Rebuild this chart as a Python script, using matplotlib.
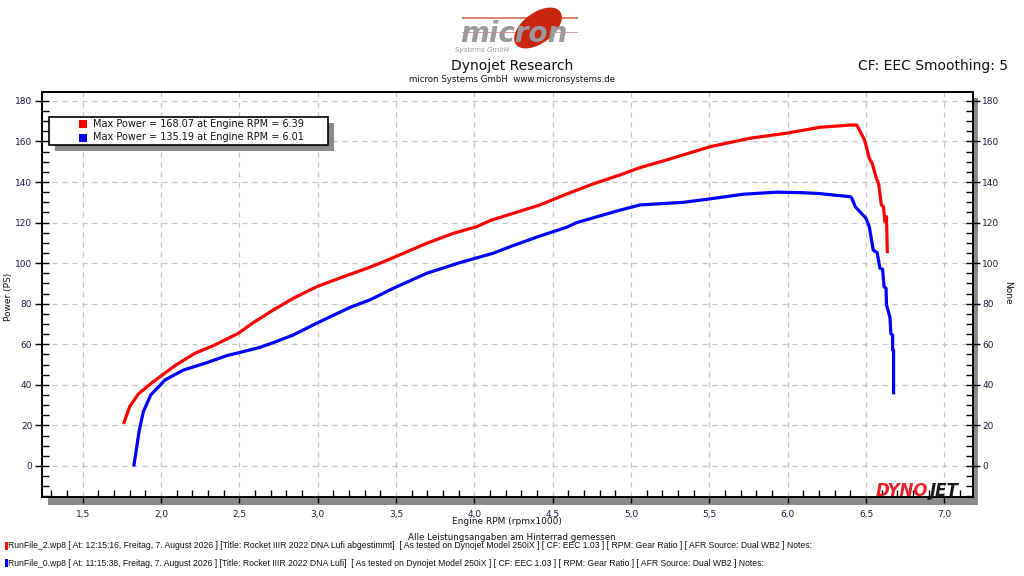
import numpy as np
import matplotlib
matplotlib.use("Agg")
import matplotlib.pyplot as plt
from matplotlib.patches import Rectangle, Ellipse
from matplotlib.ticker import MultipleLocator, FuncFormatter

# dyno run data (rpm x1000, power in PS)
rpm_run2 = [1.764, 1.80, 1.855, 1.93, 1.993, 2.089, 2.217, 2.333, 2.493, 2.589, 2.716,
            2.844, 2.993, 3.163, 3.333, 3.482, 3.695, 3.865, 4.014, 4.10, 4.227, 4.418,
            4.589, 4.758, 4.929, 5.056, 5.227, 5.503, 5.758, 5.993, 6.205, 6.397, 6.44,
            6.49, 6.52, 6.54, 6.565, 6.58, 6.597, 6.61, 6.62, 6.63, 6.635]
ps_run2 = [21.5, 29.3, 35.5, 40.3, 44.0, 49.5, 55.6, 59.3, 65.4, 70.7, 76.9,
           82.7, 88.4, 93.3, 98.0, 102.7, 109.8, 114.7, 118.0, 121.0, 124.1, 128.7,
           134.1, 139.1, 143.5, 147.1, 150.9, 157.4, 161.6, 164.1, 167.0, 168.1, 168.1,
           160.7, 151.7, 148.9, 141.9, 139.1, 128.7, 127.9, 120.5, 122.9, 105.7]

rpm_run0 = [1.827, 1.861, 1.887, 1.934, 2.025, 2.142, 2.291, 2.419, 2.525, 2.631, 2.716,
            2.844, 2.993, 3.206, 3.333, 3.482, 3.695, 3.908, 4.12, 4.227, 4.418, 4.589,
            4.652, 4.801, 4.908, 5.056, 5.333, 5.503, 5.716, 5.929, 6.078, 6.205, 6.29,
            6.397, 6.407, 6.43, 6.46, 6.499, 6.52, 6.545, 6.57, 6.588, 6.605, 6.614,
            6.627, 6.63, 6.652, 6.658, 6.669, 6.669, 6.675, 6.675]
ps_run0 = [0.5, 17.7, 26.8, 35.0, 42.4, 47.3, 50.9, 54.4, 56.4, 58.5, 60.8,
           64.6, 70.4, 78.2, 81.9, 87.6, 95.0, 100.3, 104.9, 108.1, 113.4, 117.7,
           120.0, 123.3, 125.7, 128.7, 130.0, 131.7, 134.0, 135.0, 134.8, 134.3, 133.6,
           132.8, 132.3, 127.9, 125.4, 122.1, 118.0, 106.5, 105.2, 97.5, 97.0, 88.4,
           87.6, 79.4, 73.3, 65.1, 64.6, 57.2, 57.2, 36.1]

max_power = [168.07, 135.19]
max_rpm = [6.39, 6.01]
run_colors = ["#ff0000", "#0000ff"]

footer_lines = [
    "RunFile_2.wp8 [ At: 12:15:16, Freitag, 7. August 2026 ] [Title: Rocket IIIR 2022 DNA Lufi abgestimmt]  "
    "[ As tested on Dynojet Model 250iX ] [ CF: EEC 1.03 ] [ RPM: Gear Ratio ] [ AFR Source: Dual WB2 ] Notes:",
    "RunFile_0.wp8 [ At: 11:15:38, Freitag, 7. August 2026 ] [Title: Rocket IIIR 2022 DNA Lufi]  "
    "[ As tested on Dynojet Model 250iX ] [ CF: EEC 1.03 ] [ RPM: Gear Ratio ] [ AFR Source: Dual WB2 ] Notes:",
]

W, H = 1024, 576
def fx(x):
    return x / W
def fy(y):
    return 1 - y / H

fig = plt.figure(figsize=(10.24, 5.76), dpi=100)
ax = fig.add_axes([fx(42), fy(497), fx(972.7) - fx(42), fy(92) - fy(497)])
tick_col = "#1c1c44"

# drop shadow behind plot frame
fig.add_artist(Rectangle((fx(48), fy(505)), fx(978) - fx(48), fy(98) - fy(505),
                         transform=fig.transFigure, facecolor="#8a8a8a", edgecolor="none", zorder=-1))

ax.plot(rpm_run2, ps_run2, color=run_colors[0], lw=2.3, solid_joinstyle="round")
ax.plot(rpm_run0, ps_run0, color=run_colors[1], lw=2.3, solid_joinstyle="round")

ax.set_xlim(1.24, 7.18)
ax.set_ylim(-15.3, 184.4)
ax.xaxis.set_major_locator(MultipleLocator(0.5))
ax.xaxis.set_minor_locator(MultipleLocator(0.1))
ax.yaxis.set_major_locator(MultipleLocator(20))
ax.yaxis.set_minor_locator(MultipleLocator(5))
ax.xaxis.set_major_formatter(FuncFormatter(lambda v, p: f"{v:.1f}".replace(".", ",")))
ax.yaxis.set_major_formatter(FuncFormatter(lambda v, p: f"{v:.0f}"))
ax.grid(True, which="major", color="#c4c4c4", linestyle=(0, (4, 4)), linewidth=0.9)

ax.tick_params(axis="y", which="major", direction="inout", length=10, width=1,
               left=True, right=True, labelleft=True, labelright=True,
               labelsize=6.5, labelcolor=tick_col, pad=2)
ax.tick_params(axis="y", which="minor", direction="in", length=5, width=1, left=True, right=True)
ax.tick_params(axis="x", which="major", direction="out", length=4, width=1,
               labelsize=6.5, labelcolor=tick_col, pad=5)
ax.tick_params(axis="x", which="minor", direction="in", length=5, width=1)
for s in ax.spines.values():
    s.set_linewidth(1.4)
    s.set_color("black")

# axis titles
fig.text(fx(507), fy(521), "Engine RPM (rpmx1000)", ha="center", va="center", fontsize=6.5, color="#111111")
fig.text(fx(9), fy(297), "Power (PS)", ha="center", va="center", rotation=90, fontsize=6.5, color="#111111")
fig.text(fx(1008), fy(293), "None", ha="center", va="center", rotation=270, fontsize=6.5, color="#111111")

# headers
fig.text(fx(512), fy(66), "Dynojet Research", ha="center", va="center", fontsize=10, color="#111111")
fig.text(fx(512), fy(80), "micron Systems GmbH  www.micronsystems.de", ha="center", va="center",
         fontsize=6.2, color="#111111")
fig.text(fx(1008), fy(66), "CF: EEC Smoothing: 5", ha="right", va="center", fontsize=10, color="#111111")

# micron logo
fig.add_artist(Rectangle((fx(462), fy(18.5)), fx(578) - fx(462), 1.2 / H,
                         transform=fig.transFigure, facecolor="#d9846f", edgecolor="none"))
fig.add_artist(Rectangle((fx(462), fy(33)), fx(578) - fx(462), 1.0 / H,
                         transform=fig.transFigure, facecolor="#d9a090", edgecolor="none"))
fig.add_artist(Ellipse((fx(538), fy(28)), 38 / W, 44 / H, angle=-25,
                       transform=fig.transFigure, facecolor="#c8260e", edgecolor="none"))
fig.text(fx(460), fy(42), "micron", ha="left", va="baseline", fontsize=20, fontstyle="italic",
         fontweight="bold", color="#9a9a9e", family="DejaVu Sans")
fig.text(fx(455), fy(49.5), "Systems GmbH", ha="left", va="center", fontsize=5, fontstyle="italic",
         color="#9a9a9e")

# legend box
fig.add_artist(Rectangle((fx(55), fy(151)), fx(334) - fx(55), fy(117) - fy(145),
                         transform=fig.transFigure, facecolor="#8a8a8a", edgecolor="none", zorder=4))
fig.add_artist(Rectangle((fx(49), fy(145)), fx(328) - fx(49), fy(117) - fy(145),
                         transform=fig.transFigure, facecolor="white", edgecolor="black", lw=1.2, zorder=5))
for i, (p, r) in enumerate(zip(max_power, max_rpm)):
    yy = 124 + i * 13.5
    fig.add_artist(Rectangle((fx(79), fy(yy + 4)), 8 / W, 8 / H, transform=fig.transFigure,
                             facecolor=run_colors[i], edgecolor="none", zorder=6))
    fig.text(fx(93), fy(yy), f"Max Power = {p:.2f} at Engine RPM = {r:.2f}", ha="left", va="center",
             fontsize=7, color="#111111", zorder=6)

# DYNOJET logo
fig.text(fx(876), fy(491), "DYNO", ha="left", va="center", fontsize=12, fontstyle="italic",
         fontweight="heavy", color="#e8202a", zorder=6)
fig.text(fx(930), fy(491), "JET", ha="left", va="center", fontsize=12, fontstyle="italic",
         fontweight="heavy", color="#1a1a1a", zorder=6)

# footer
fig.text(fx(512), fy(538), "Alle Leistungsangaben am Hinterrad gemessen", ha="center", va="center",
         fontsize=6.3, color="#111111")
for i, line in enumerate(footer_lines):
    yy = 546 + i * 17
    fig.add_artist(Rectangle((fx(5), fy(yy + 4)), 3 / W, 8 / H, transform=fig.transFigure,
                             facecolor=run_colors[i], edgecolor="none"))
    fig.text(fx(8), fy(yy), line, ha="left", va="center", fontsize=6.2, color="#111111",
             family="Liberation Sans")

fig.savefig("out.png", dpi=100, facecolor="white")
